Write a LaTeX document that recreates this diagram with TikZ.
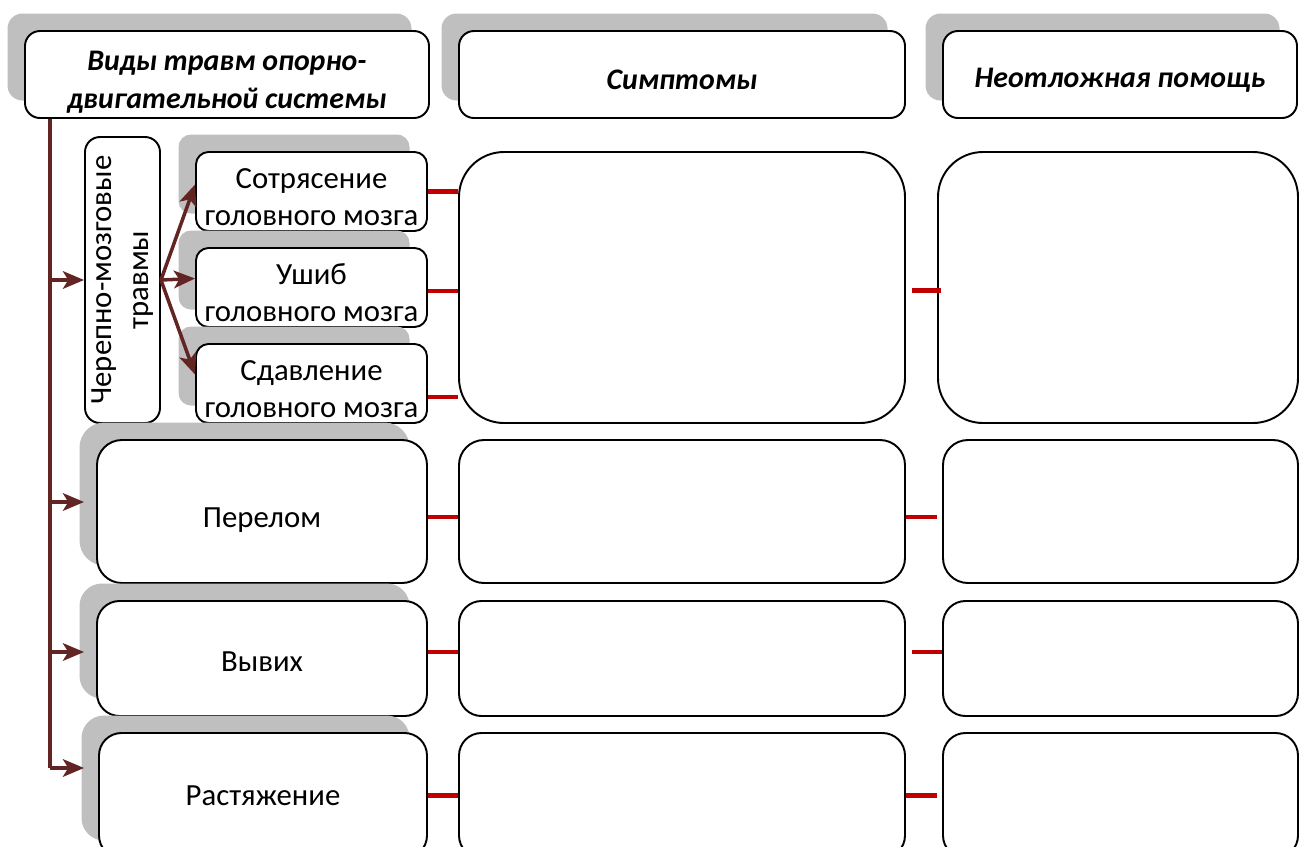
\documentclass[tikz,border=0pt]{standalone}
\usepackage{fontspec}
\setmainfont{Carlito}
\usetikzlibrary{positioning}
\usetikzlibrary{calc}
\usetikzlibrary{shadows}
\usetikzlibrary{arrows.meta}
\definecolor{arrowbrown}{HTML}{632523}
\definecolor{linkred}{HTML}{C00000}
\definecolor{shadowgray}{HTML}{BFBFBF}
\newcommand\txtlift[1]{\rule{0pt}{#1}}
\tikzset{
    sz/.style 2 args = {minimum width=#1*0.02cm, minimum height=#2*0.02cm},
    boxn/.style = {draw=black, line width=1.1pt, fill=white, align=center, inner sep=0pt, font=\fontsize{17.5}{21.5}\selectfont},
    boxs/.style = {boxn, drop shadow={shadow xshift=-0.35cm, shadow yshift=0.35cm, fill=shadowgray, opacity=1}},
    boxh/.style = {boxs, font=\fontsize{17}{21.5}\selectfont\bfseries\itshape},
    edgeb/.style = {-{Stealth[length=12pt,width=10pt,inset=3pt]}, line width=2pt, arrowbrown},
    edget/.style = {-, line width=2.2pt, arrowbrown},
    edger/.style = {-, line width=2.6pt, linkred},
}

\begin{document}
\begin{tikzpicture}[x=0.02cm, y=-0.02cm]
  \useasboundingbox (0,0) rectangle (1299,846);

  % headers
  \node[boxh, sz={404}{87}, rounded corners=0.3cm] (hdr1) at (227,74.5) {\txtlift{20pt}Виды травм опорно-\\двигательной системы};
  \node[boxh, sz={446}{87}, rounded corners=0.3cm] (hdr2) at (682,74.5) {\txtlift{17pt}Симптомы};
  \node[boxh, sz={354}{87}, rounded corners=0.3cm] (hdr3) at (1120,74.5) {\txtlift{17pt}Неотложная помощь};

  % head injuries
  \node[boxn, sz={286}{75}, rotate=90, rounded corners=0.3cm] (cmt) at (122.5,280) {Черепно-мозговые\\травмы};
  \node[boxs, sz={231}{79}, rounded corners=0.25cm] (sot) at (311.5,191.5) {\txtlift{17.7pt}Сотрясение\\головного мозга};
  \node[boxs, sz={231}{79}, rounded corners=0.25cm] (ush) at (311.5,287.5) {\txtlift{17.7pt}Ушиб\\головного мозга};
  \node[boxs, sz={231}{79}, rounded corners=0.25cm] (sdv) at (311.5,383.5) {\txtlift{17.7pt}Сдавление\\головного мозга};
  \node[boxn, sz={446}{271}, rounded corners=0.9cm] (sym1) at (682,287.5) {};
  \node[boxn, sz={360}{271}, rounded corners=0.9cm] (help1) at (1118,287.5) {};

  % other injuries
  \node[boxs, sz={330}{143}, rounded corners=0.5cm] (per) at (262,511.5) {\txtlift{20.5pt}Перелом};
  \node[boxn, sz={446}{143}, rounded corners=0.5cm] (sym2) at (682,511.5) {};
  \node[boxn, sz={355}{143}, rounded corners=0.5cm] (help2) at (1120.5,511.5) {};

  \node[boxs, sz={330}{115}, rounded corners=0.45cm] (vyv) at (262,658.5) {\txtlift{14.8pt}Вывих};
  \node[boxn, sz={446}{115}, rounded corners=0.45cm] (sym3) at (682,658.5) {};
  \node[boxn, sz={355}{115}, rounded corners=0.45cm] (help3) at (1120.5,658.5) {};

  \node[boxs, sz={328}{125}, rounded corners=0.45cm] (ras) at (263,795.5) {Растяжение};
  \node[boxn, sz={446}{125}, rounded corners=0.45cm] (sym4) at (682,795.5) {};
  \node[boxn, sz={355}{125}, rounded corners=0.45cm] (help4) at (1120.5,795.5) {};

  % trunk and arrows
  \coordinate (trunk) at (50,768);
  \draw[edget] (hdr1.south -| trunk) -- (trunk);
  \draw[edgeb] (trunk |- cmt.north) -- (cmt.north);
  \draw[edgeb] (trunk |- {$(per.west)+(0,-9.5)$}) -- ($(per.west)+(-12,-9.5)$);
  \draw[edgeb] (trunk |- {$(vyv.west)+(0,-6.5)$}) -- ($(vyv.west)+(-12,-6.5)$);
  \draw[edgeb] (trunk) -- ($(ras.west)+(-14,-27.5)$);

  \draw[edgeb] (cmt.south) -- ($(sot.west)+(0,-7)$);
  \draw[edgeb] (cmt.south) -- ($(ush.west)+(0,-9)$);
  \draw[edgeb] (cmt.south) -- ($(sdv.west)+(0,-9)$);

  % red links
  \draw[edger] (sot.east) -- (sot.east -| sym1.west);
  \draw[edger] ($(ush.east)+(0,3.5)$) -- ($(ush.east -| sym1.west)+(0,3.5)$);
  \draw[edger] ($(sdv.east)+(0,13.5)$) -- ($(sdv.east -| sym1.west)+(0,13.5)$);
  \draw[edger] ($(sym1.east)+(6,3)$) -- ($(help1.west)+(4,3)$);

  \draw[edger] ($(per.east)+(0,5.5)$) -- ($(per.east -| sym2.west)+(0,5.5)$);
  \draw[edger] ($(sym2.east)+(0,5.5)$) -- ($(sym2.east -| help2.west)+(-5,5.5)$);
  \draw[edger] ($(vyv.east)+(0,-6.5)$) -- ($(vyv.east -| sym3.west)+(0,-6.5)$);
  \draw[edger] ($(sym3.east)+(6,-6.5)$) -- ($(sym3.east -| help3.west)+(0,-6.5)$);
  \draw[edger] (ras.east) -- (ras.east -| sym4.west);
  \draw[edger] (sym4.east) -- ($(sym4.east -| help4.west)+(-5,0)$);
\end{tikzpicture}
\end{document}
